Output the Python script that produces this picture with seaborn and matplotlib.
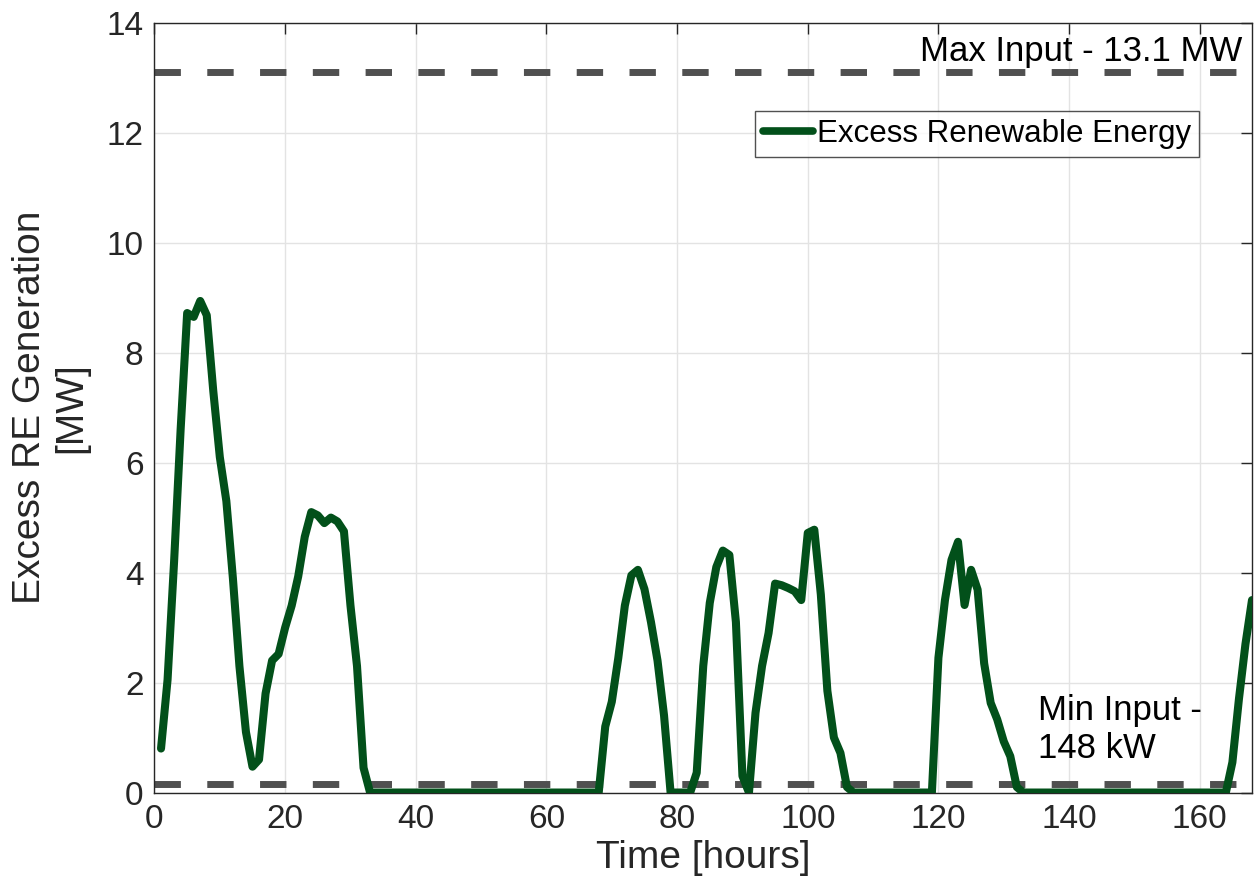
import numpy as np
import pandas as pd
import matplotlib
matplotlib.use("Agg")
import matplotlib.pyplot as plt
import seaborn as sns

# === data ===
hours = list(range(1, 169))
excess_mw = (
    [0.8, 2.05, 4.2, 6.6, 8.72, 8.65, 8.94, 8.68, 7.3, 6.1,
     5.3, 3.9, 2.3, 1.1, 0.47, 0.6, 1.8, 2.4, 2.52, 3.0,
     3.4, 3.93, 4.65, 5.1, 5.04, 4.9, 5.0, 4.93, 4.75, 3.4,
     2.3, 0.45]
    + [0.0] * 36                                   # hours 33-68
    + [1.2, 1.65, 2.45, 3.4, 3.95, 4.05, 3.7, 3.1, 2.4, 1.4,
       0.0, 0.0, 0.0, 0.0, 0.36, 2.3, 3.45, 4.1, 4.4, 4.32,
       3.1, 0.3, 0.0, 1.45, 2.3, 2.9, 3.8, 3.77, 3.72, 3.66,
       3.5, 4.72, 4.78, 3.6, 1.85, 1.0, 0.72, 0.1]   # hours 69-106
    + [0.0] * 13                                   # hours 107-119
    + [2.45, 3.5, 4.23, 4.56, 3.41, 4.05, 3.69, 2.35, 1.63, 1.33,
       0.93, 0.66, 0.1]                            # hours 120-132
    + [0.0] * 32                                   # hours 133-164
    + [0.55, 1.7, 2.7, 3.5]                        # hours 165-168
)
max_input_mw = 13.1
min_input_mw = 0.148

x_ticks = [0, 20, 40, 60, 80, 100, 120, 140, 160]
y_ticks = [0, 2, 4, 6, 8, 10, 12, 14]

df = pd.DataFrame({"Hour": hours, "Excess": excess_mw})

# === style ===
sns.set_style("white")
plt.rcParams["font.family"] = ["Liberation Sans", "DejaVu Sans"]

green = "#02501a"
dash_gray = "#505050"
ax_gray = "#262626"

fig = plt.figure(figsize=(12.54, 8.94), dpi=100)
ax = fig.add_axes([0.1232, 0.1135, 0.8752, 0.8611])

sns.lineplot(data=df, x="Hour", y="Excess", color=green, linewidth=5.8,
             ax=ax, label="Excess Renewable Energy", zorder=3)

ax.axhline(max_input_mw, color=dash_gray, linewidth=5, linestyle=(0, (3.8, 3.8)), zorder=2)
ax.axhline(min_input_mw, color=dash_gray, linewidth=5, linestyle=(0, (3.8, 3.8)), zorder=2)

ax.text(166.5, 13.3, "Max Input - 13.1 MW", ha="right", va="baseline",
        fontsize=25, color="black")
ax.text(135.2, 0.5, "Min Input -\n148 kW", ha="left", va="bottom",
        fontsize=25, color="black", linespacing=1.2)

ax.set_xlim(0, 168)
ax.set_ylim(0, 14)
ax.set_xticks(x_ticks)
ax.set_yticks(y_ticks)
ax.grid(True, color="#e3e3e3", linewidth=1.0)
ax.set_axisbelow(True)

ax.tick_params(axis="both", which="major", direction="in", length=8, width=1,
               labelsize=24, colors=ax_gray, top=True, right=True, pad=8)
for side in ["top", "bottom", "left", "right"]:
    ax.spines[side].set_visible(True)
    ax.spines[side].set_color(ax_gray)
    ax.spines[side].set_linewidth(1.0)

ax.set_xlabel("Time [hours]", fontsize=28, color=ax_gray, labelpad=4)
ax.set_ylabel("Excess RE Generation\n[MW]", fontsize=28, color=ax_gray, labelpad=12)

leg = ax.legend(loc="upper right", bbox_to_anchor=(0.952, 0.885), borderaxespad=0,
                fontsize=22.5, frameon=True, fancybox=False, handlelength=1.6,
                handletextpad=0.15, borderpad=0.25)
leg.get_frame().set_edgecolor("#262626")
leg.get_frame().set_linewidth(1.0)
for line in leg.get_lines():
    line.set_linewidth(5.5)
for t in leg.get_texts():
    t.set_color("black")

fig.savefig("out.png", dpi=100)
